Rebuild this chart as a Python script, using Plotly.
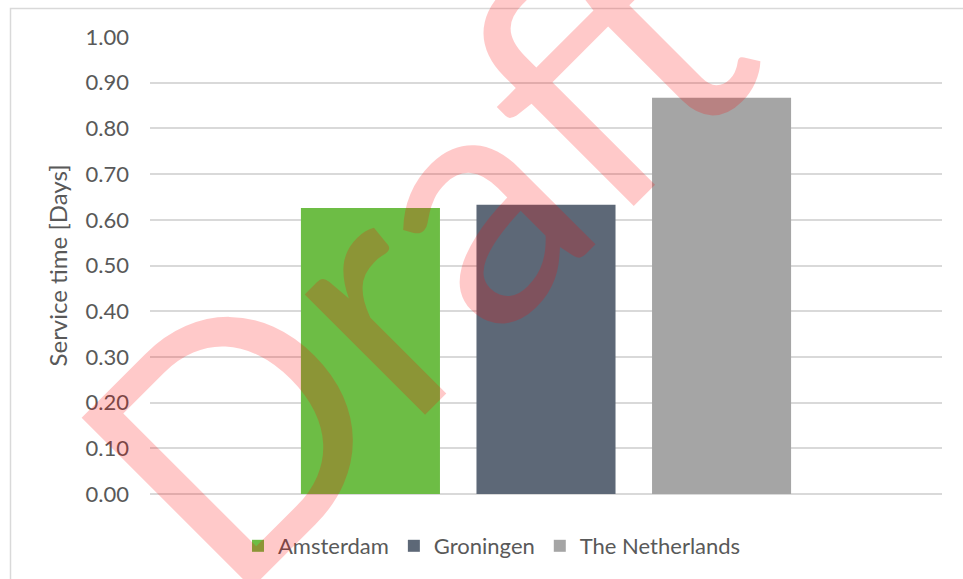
import plotly.graph_objects as go

# Service time per region (days)
regions = ["Amsterdam", "Groningen", "The Netherlands"]
service_days = [0.626, 0.633, 0.867]
bar_colors = ["#6DBD45", "#5D6877", "#A5A5A5"]
y_ticks = [0.0, 0.1, 0.2, 0.3, 0.4, 0.5, 0.6, 0.7, 0.8, 0.9, 1.0]
y_title = "Service time [Days]"
watermark = "Draft"

W, H = 963, 579
M_L, M_R, M_T, M_B = 150, 21, 37, 85
PW = W - M_L - M_R
PH = H - M_T - M_B


def px_x(px):
    """Convert a pixel column to paper x."""
    return (px - M_L) / PW


def px_y(py):
    """Convert a pixel row to paper y."""
    return (H - M_B - py) / PH


FONT = "Lato"
TXT = "#595959"
GRID = "#D9D9D9"

fig = go.Figure()
for name, val, col in zip(regions, service_days, bar_colors):
    fig.add_trace(go.Bar(
        x=[" "], y=[val], name=name,
        marker=dict(color=col, line=dict(width=0)),
    ))

fig.update_layout(
    width=W, height=H,
    margin=dict(l=M_L, r=M_R, t=M_T, b=M_B, pad=0),
    paper_bgcolor="white", plot_bgcolor="white",
    barmode="group", bargap=0.335, bargroupgap=0.208,
    font=dict(family=FONT, size=22, color=TXT),
    showlegend=True,
    legend=dict(
        orientation="h", x=px_x(492), xanchor="center",
        y=px_y(546), yanchor="middle",
        font=dict(family=FONT, size=22, color=TXT),
        bgcolor="rgba(0,0,0,0)", itemclick=False,
    ),
    xaxis=dict(type="category", showticklabels=False, showgrid=False,
               zeroline=False, showline=False, ticks=""),
    yaxis=dict(
        range=[0, 1], tickvals=y_ticks,
        ticktext=[f"{v:.2f}" for v in y_ticks],
        showgrid=True, gridcolor=GRID, gridwidth=1.8,
        zeroline=True, zerolinecolor=GRID, zerolinewidth=1.8,
        showline=False, ticks="", ticklabelstandoff=20,
        tickfont=dict(family=FONT, size=22, color=TXT),
        title=dict(text=y_title, standoff=11,
                   font=dict(family=FONT, size=24, color=TXT)),
    ),
)

# chart-area border
fig.add_shape(type="rect", xref="paper", yref="paper",
              x0=px_x(10.5), x1=px_x(990), y0=px_y(620), y1=px_y(8.5),
              line=dict(color=GRID, width=1.5), fillcolor="rgba(0,0,0,0)",
              layer="below")

# watermark
fig.add_annotation(
    text=watermark, xref="paper", yref="paper",
    x=px_x(409), y=px_y(247), xanchor="center", yanchor="middle",
    textangle=-45, showarrow=False,
    font=dict(family=FONT, size=336, color="rgba(255,0,0,0.21)"),
)

fig.write_html("out.html")
